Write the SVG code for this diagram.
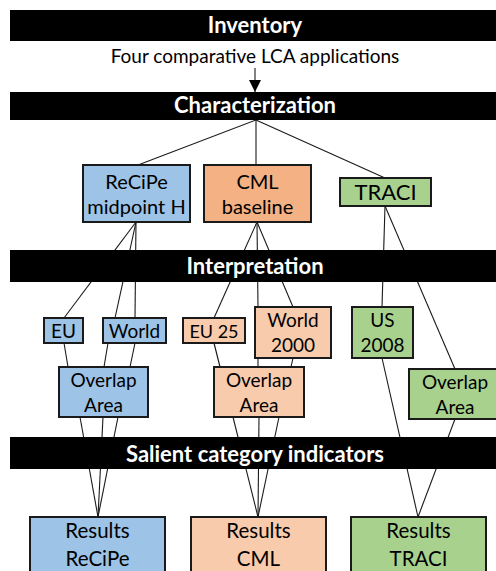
<svg xmlns="http://www.w3.org/2000/svg" width="496" height="571" viewBox="0 0 496 571">
<style>
.bar{fill:#000}
.bt{fill:#fff;font-family:Lato,"Liberation Sans",sans-serif;font-weight:bold;font-size:22px;text-anchor:middle}
.t{fill:#000;font-family:Lato,"Liberation Sans",sans-serif;font-size:19px;text-anchor:middle}
.t20{font-size:20px}
.t21{font-size:20.5px}
.box{stroke:#1a1a1a;stroke-width:2}
.blue{fill:#9DC3E6}
.orange{fill:#F4B183}
.lorange{fill:#F8CBAD}
.green{fill:#A9D18E}
.c line{stroke:#1a1a1a;stroke-width:1.1}
</style>
<defs>
<marker id="ah" viewBox="0 0 12 12" refX="12" refY="6" markerWidth="12" markerHeight="12" markerUnits="userSpaceOnUse" orient="auto">
<path d="M0,0 L12,6 L0,12 Z" fill="#000"/>
</marker>
</defs>
<rect width="496" height="571" fill="#fff"/>
<g class="c" id="connectors">
<line x1="255" y1="68" x2="255" y2="92" marker-end="url(#ah)"/>
<line x1="256" y1="120" x2="138" y2="165"/>
<line x1="256" y1="120" x2="256" y2="165"/>
<line x1="256" y1="120" x2="385" y2="178"/>
<line x1="136" y1="222" x2="64" y2="318"/>
<line x1="136" y1="222" x2="115" y2="318"/>
<line x1="136" y1="222" x2="135" y2="318"/>
<line x1="64" y1="343" x2="68" y2="367"/>
<line x1="108" y1="343" x2="104" y2="367"/>
<line x1="135" y1="343" x2="130" y2="367"/>
<line x1="80" y1="417" x2="98" y2="517"/>
<line x1="103" y1="417" x2="98" y2="517"/>
<line x1="118" y1="417" x2="98" y2="517"/>
<line x1="257" y1="222" x2="214" y2="318"/>
<line x1="257" y1="222" x2="258" y2="307"/>
<line x1="257" y1="222" x2="293" y2="307"/>
<line x1="214" y1="343" x2="220" y2="367"/>
<line x1="258" y1="358" x2="258" y2="367"/>
<line x1="293" y1="358" x2="291" y2="367"/>
<line x1="233" y1="417" x2="258" y2="517"/>
<line x1="259" y1="417" x2="258" y2="517"/>
<line x1="279" y1="417" x2="258" y2="517"/>
<line x1="385" y1="206" x2="382" y2="307"/>
<line x1="385" y1="206" x2="455" y2="369"/>
<line x1="382" y1="358" x2="418" y2="517"/>
<line x1="455" y1="419" x2="418" y2="517"/>
</g>
<g id="inventory"><rect class="bar" x="10" y="10" width="490" height="31"/><text class="bt" x="255" y="33">Inventory</text></g>
<g id="apps"><text class="t" x="255" y="63">Four comparative LCA applications</text></g>
<g id="characterization"><rect class="bar" x="10" y="92" width="490" height="28"/><text class="bt" x="255" y="113">Characterization</text></g>
<g id="recipe"><rect class="box blue" x="83" y="165" width="107" height="57"/><text class="t t20" x="136.5" y="189">ReCiPe</text><text class="t t20" x="136.5" y="214">midpoint H</text></g>
<g id="cml"><rect class="box orange" x="204" y="165" width="107" height="57"/><text class="t t20" x="257.5" y="189">CML</text><text class="t t20" x="257.5" y="214">baseline</text></g>
<g id="traci"><rect class="box green" x="340" y="178" width="91" height="28"/><text class="t" style="font-size:22px" x="385.5" y="200">TRACI</text></g>
<g id="interpretation"><rect class="bar" x="10" y="250" width="490" height="32"/><text class="bt" x="255" y="274">Interpretation</text></g>
<g id="eu"><rect class="box blue" x="44" y="318" width="39" height="25"/><text class="t" x="63.5" y="338">EU</text></g>
<g id="world"><rect class="box blue" x="103" y="318" width="63" height="25"/><text class="t" x="134.5" y="338">World</text></g>
<g id="eu25"><rect class="box lorange" x="183" y="318" width="62" height="25"/><text class="t" style="font-size:18px" x="214" y="338">EU 25</text></g>
<g id="world2000"><rect class="box lorange" x="255" y="307" width="76" height="51"/><text class="t" x="293" y="327">World</text><text class="t" x="293" y="352">2000</text></g>
<g id="us2008"><rect class="box green" x="352" y="307" width="61" height="51"/><text class="t" x="382.5" y="327">US</text><text class="t" x="382.5" y="352">2008</text></g>
<g id="overlap-recipe"><rect class="box blue" x="59" y="367" width="89" height="50"/><text class="t" x="103.5" y="387">Overlap</text><text class="t" x="103.5" y="412">Area</text></g>
<g id="overlap-cml"><rect class="box lorange" x="214" y="367" width="90" height="50"/><text class="t" x="259" y="387">Overlap</text><text class="t" x="259" y="412">Area</text></g>
<g id="overlap-traci"><rect class="box green" x="409" y="369" width="92" height="50"/><text class="t" x="455" y="389">Overlap</text><text class="t" x="455" y="414">Area</text></g>
<g id="salient"><rect class="bar" x="10" y="437" width="490" height="32"/><text class="bt" x="255" y="462">Salient category indicators</text></g>
<g id="results-recipe"><rect class="box blue" x="30" y="517" width="135" height="70"/><text class="t t21" x="97.5" y="538">Results</text><text class="t t21" x="97.5" y="566">ReCiPe</text></g>
<g id="results-cml"><rect class="box lorange" x="191" y="517" width="135" height="70"/><text class="t t21" x="258.5" y="538">Results</text><text class="t t21" x="258.5" y="566">CML</text></g>
<g id="results-traci"><rect class="box green" x="351" y="517" width="135" height="70"/><text class="t t21" x="418.5" y="538">Results</text><text class="t t21" x="418.5" y="566">TRACI</text></g>
</svg>
